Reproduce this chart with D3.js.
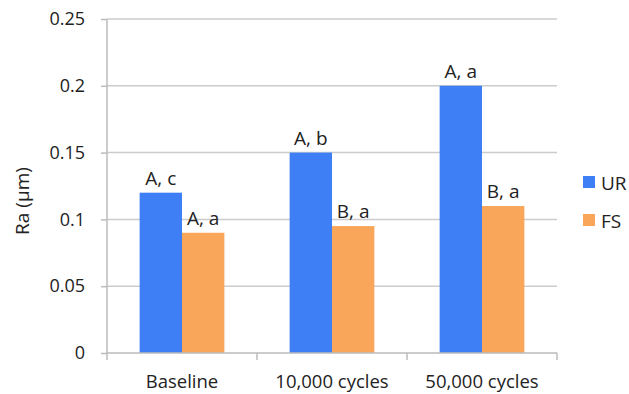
<!DOCTYPE html>
<html>
<head>
<meta charset="utf-8">
<script src="https://cdn.jsdelivr.net/npm/d3@7"></script>
<style>
  body { margin: 0; background: #fff; }
  svg text { font-family: "Open Sans", sans-serif; fill: #222; }
</style>
</head>
<body>
<div id="chart"></div>
<script>
// Chart data
const categories = ['Baseline', '10,000 cycles', '50,000 cycles'];
const seriesNames = ['UR', 'FS'];
const urValues = [0.12, 0.15, 0.2];
const fsValues = [0.09, 0.095, 0.11];
const urLabels = ['A, c', 'A, b', 'A, a'];
const fsLabels = ['A, a', 'B, a', 'B, a'];
const yTicks = [0, 0.05, 0.1, 0.15, 0.2, 0.25];

const colors = { UR: '#3f7ff6', FS: '#f9a65a' };

const width = 629, height = 394;
const margin = { top: 19, right: 72, bottom: 41, left: 107 };

const svg = d3.select('#chart').append('svg')
    .attr('width', width)
    .attr('height', height);

const x = d3.scaleBand()
    .domain(categories)
    .range([margin.left, width - margin.right]);

const y = d3.scaleLinear()
    .domain([0, 0.25])
    .range([height - margin.bottom, margin.top]);

const inner = d3.scaleBand()
    .domain(seriesNames)
    .range([0, x.bandwidth()])
    .paddingOuter(0.77);

// Gridlines
svg.append('g')
    .selectAll('line')
    .data(yTicks.slice(1))
    .enter()
    .append('line')
    .attr('x1', margin.left)
    .attr('x2', width - margin.right)
    .attr('y1', d => y(d))
    .attr('y2', d => y(d))
    .attr('stroke', '#cccccc')
    .attr('stroke-width', 1.5);

// Y axis
const yAxis = svg.append('g')
    .attr('transform', 'translate(' + margin.left + ',0)')
    .call(d3.axisLeft(y).tickValues(yTicks).tickSize(6).tickPadding(16)
        .tickFormat(d => d === 0 ? '0' : String(+d.toFixed(2))));
yAxis.selectAll('text').style('font-size', '18px');
yAxis.selectAll('line, path').attr('stroke', '#bbbbbb').attr('stroke-width', 1.5);
yAxis.select('.domain').attr('d', 'M0,' + y(0.25) + 'V' + y(0));

// Bars
const seriesData = [
    { name: 'UR', values: urValues, labels: urLabels },
    { name: 'FS', values: fsValues, labels: fsLabels }
];

seriesData.forEach(s => {
    const g = svg.append('g');
    g.selectAll('rect')
        .data(categories)
        .enter()
        .append('rect')
        .attr('x', (c) => x(c) + inner(s.name))
        .attr('width', inner.bandwidth())
        .attr('y', (c, i) => y(s.values[i]))
        .attr('height', (c, i) => y(0) - y(s.values[i]))
        .attr('fill', colors[s.name]);

    g.selectAll('text')
        .data(categories)
        .enter()
        .append('text')
        .attr('x', (c) => x(c) + inner(s.name) + inner.bandwidth() / 2)
        .attr('y', (c, i) => y(s.values[i]) - 8)
        .attr('text-anchor', 'middle')
        .style('font-size', '19px')
        .text((c, i) => s.labels[i]);
});

// X axis
const xTickPos = [0, 1, 2, 3].map(i => margin.left + i * x.step());
const xAxis = svg.append('g');
xAxis.append('line')
    .attr('x1', margin.left)
    .attr('x2', width - margin.right)
    .attr('y1', y(0))
    .attr('y2', y(0))
    .attr('stroke', '#bbbbbb')
    .attr('stroke-width', 1.5);
xAxis.selectAll('.tick')
    .data(xTickPos)
    .enter()
    .append('line')
    .attr('x1', d => d)
    .attr('x2', d => d)
    .attr('y1', y(0))
    .attr('y2', y(0) + 7)
    .attr('stroke', '#bbbbbb')
    .attr('stroke-width', 1.5);
xAxis.selectAll('text')
    .data(categories)
    .enter()
    .append('text')
    .attr('x', d => x(d) + x.bandwidth() / 2)
    .attr('y', y(0) + 35)
    .attr('text-anchor', 'middle')
    .style('font-size', '18.5px')
    .text(d => d);

// Y axis title
svg.append('text')
    .attr('transform', 'translate(29,' + 201 + ') rotate(-90)')
    .attr('text-anchor', 'middle')
    .style('font-size', '19px')
    .text('Ra (µm)');

// Legend
const legend = svg.append('g');
seriesNames.forEach((name, i) => {
    const ly = 182 + i * 38;
    legend.append('rect')
        .attr('x', 583)
        .attr('y', ly - 6)
        .attr('width', 12)
        .attr('height', 12)
        .attr('fill', colors[name]);
    legend.append('text')
        .attr('x', 601)
        .attr('y', ly + 8)
        .style('font-size', '19px')
        .text(name);
});
</script>
</body>
</html>
